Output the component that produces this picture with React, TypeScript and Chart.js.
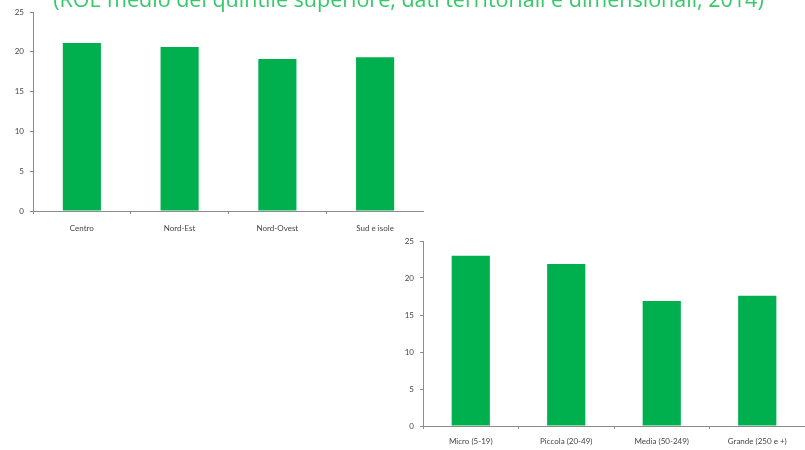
import React, { useEffect, useRef } from "react";
import { Chart, registerables } from "chart.js";

Chart.register(...registerables);

const TITLE = "(ROE medio del quintile superiore, dati territoriali e dimensionali, 2014)";

const areaLabels = ["Centro", "Nord-Est", "Nord-Ovest", "Sud e isole"];
const areaValues = [21.1, 20.6, 19.1, 19.3];

const sizeLabels = ["Micro (5-19)", "Piccola (20-49)", "Media (50-249)", "Grande (250 e +)"];
const sizeValues = [23.0, 21.9, 16.9, 17.6];

const yTicks = [0, 5, 10, 15, 20, 25];

const BAR_GREEN = "#00B04F";
const AXIS_GREY = "#8c8c8c";
const TEXT_GREY = "#444444";
const FONT = "Lato, 'Open Sans', sans-serif";

type PanelProps = {
  labels: string[];
  values: number[];
  width: number;
  height: number;
  barPct: number;
  yAxisWidth: number;
  xAxisHeight: number;
  labelPad: number;
  topPad: number;
};

function BarPanel({ labels, values, width, height, barPct, yAxisWidth, xAxisHeight, labelPad, topPad }: PanelProps) {
  const ref = useRef<HTMLCanvasElement | null>(null);

  useEffect(() => {
    if (!ref.current) return;
    const chart = new Chart(ref.current, {
      type: "bar",
      data: {
        labels,
        datasets: [
          {
            data: values,
            backgroundColor: BAR_GREEN,
            borderWidth: 0,
            categoryPercentage: 1,
            barPercentage: barPct,
          },
        ],
      },
      options: {
        responsive: false,
        animation: false,
        layout: { padding: { top: topPad, right: 0, left: 0, bottom: 0 } },
        plugins: {
          legend: { display: false },
          title: { display: false },
          tooltip: { enabled: false },
        },
        scales: {
          x: {
            grid: {
              display: true,
              drawOnChartArea: false,
              drawTicks: true,
              tickLength: 3,
              color: AXIS_GREY,
              offset: true,
            },
            border: { display: true, color: AXIS_GREY, width: 1 },
            ticks: {
              color: TEXT_GREY,
              font: { family: FONT, size: 8 },
              padding: labelPad,
              maxRotation: 0,
              autoSkip: false,
            },
            afterFit: (scale: any) => {
              scale.height = xAxisHeight;
            },
          },
          y: {
            min: 0,
            max: 25,
            afterBuildTicks: (scale: any) => {
              scale.ticks = yTicks.map((v) => ({ value: v }));
            },
            grid: {
              display: true,
              drawOnChartArea: false,
              drawTicks: true,
              tickLength: 3,
              color: AXIS_GREY,
            },
            border: { display: true, color: AXIS_GREY, width: 1 },
            ticks: {
              color: TEXT_GREY,
              font: { family: FONT, size: 8 },
              padding: 6,
            },
            afterFit: (scale: any) => {
              scale.width = yAxisWidth;
            },
          },
        },
      },
    });
    return () => chart.destroy();
  }, []);

  return <canvas ref={ref} width={width} height={height} style={{ width, height, display: "block" }} />;
}

export default function App() {
  return (
    <div
      style={{
        position: "fixed",
        left: 0,
        top: 0,
        width: 805,
        height: 450,
        background: "#ffffff",
        overflow: "hidden",
      }}
    >
      <div style={{ position: "absolute", left: 0, top: 0 }}>
        <BarPanel
          labels={areaLabels}
          values={areaValues}
          width={424}
          height={241}
          barPct={0.39}
          yAxisWidth={33}
          xAxisHeight={30}
          labelPad={10}
          topPad={12}
        />
      </div>
      <div style={{ position: "absolute", left: 390, top: 229 }}>
        <BarPanel
          labels={sizeLabels}
          values={sizeValues}
          width={415}
          height={221}
          barPct={0.4}
          yAxisWidth={33}
          xAxisHeight={24}
          labelPad={8}
          topPad={12}
        />
      </div>
      <div
        style={{
          position: "absolute",
          left: 0,
          width: 805,
          top: -12,
          textAlign: "center",
          fontFamily: "'Open Sans', Lato, sans-serif",
          fontSize: 21.5,
          lineHeight: "22px",
          color: "#36C96A",
          whiteSpace: "nowrap",
          transform: "translateX(6px)",
        }}
      >
        {TITLE}
      </div>
    </div>
  );
}
